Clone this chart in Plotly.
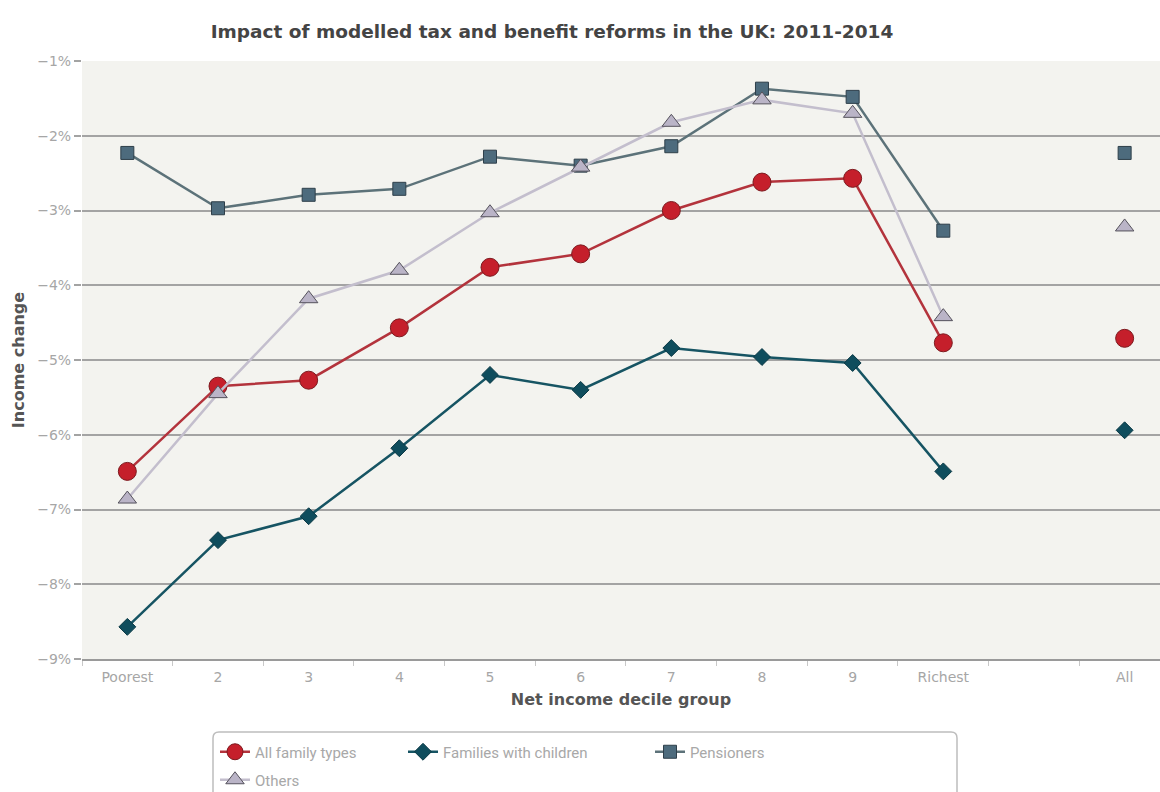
import plotly.graph_objects as go

categories = ["Poorest", "2", "3", "4", "5", "6", "7", "8", "9", "Richest", " ", "All"]

all_family_types = [-6.49, -5.35, -5.27, -4.57, -3.76, -3.58, -3.00, -2.62, -2.57, -4.77, None, -4.71]
families_with_children = [-8.57, -7.41, -7.09, -6.18, -5.20, -5.40, -4.84, -4.96, -5.04, -6.49, None, -5.94]
pensioners = [-2.23, -2.97, -2.79, -2.71, -2.28, -2.40, -2.14, -1.37, -1.48, -3.27, None, -2.23]
others = [-6.86, -5.45, -4.18, -3.80, -3.03, -2.42, -1.82, -1.52, -1.70, -4.42, None, -3.22]

y_ticks = [-9, -8, -7, -6, -5, -4, -3, -2, -1]
y_tick_labels = ["\u2212" + str(abs(v)) + "%" for v in y_ticks]

W, H = 1160, 792
L, R, T, B = 82, 0, 61, 133
PW, PH = W - L - R, H - T - B


def px_x(p):
    return (p - L) / PW


def px_y(p):
    return (H - B - p) / PH


series = [
    dict(name="All family types", y=all_family_types, symbol="circle", size=18,
         fill="#c51f2b", edge="#7d1a1f", line="#b3333c", legend="legend2"),
    dict(name="Families with children", y=families_with_children, symbol="diamond", size=13,
         fill="#0f4d5d", edge="#0b3945", line="#165463", legend="legend3"),
    dict(name="Pensioners", y=pensioners, symbol="square", size=13,
         fill="#4d6b7d", edge="#2e3f4a", line="#5c7279", legend="legend4"),
    dict(name="Others", y=others, symbol="triangle-up", size=16,
         fill="#bab4c7", edge="#55525c", line="#c3becd", legend="legend5"),
]

fig = go.Figure()
for s in series:
    fig.add_trace(go.Scatter(
        x=categories, y=s["y"], name=s["name"], mode="lines+markers",
        connectgaps=False,
        line=dict(color=s["line"], width=2.5),
        marker=dict(symbol=s["symbol"], size=s["size"], color=s["fill"],
                    line=dict(color=s["edge"], width=1)),
        legend=s["legend"],
    ))

legend_font = dict(family="Roboto, Arial, sans-serif", size=15, color="#a8a8a8")
leg_common = dict(font=legend_font, bgcolor="rgba(0,0,0,0)", borderwidth=0,
                  xanchor="left", yanchor="middle", orientation="v")

# rounded legend box
x0, x1 = px_x(213), px_x(957)
y0, y1 = px_y(732), px_y(812)
rx, ry = 6 / PW, 6 / PH
box_path = (f"M{x0+rx},{y0} L{x1-rx},{y0} Q{x1},{y0} {x1},{y0-ry} "
            f"L{x1},{y1+ry} Q{x1},{y1} {x1-rx},{y1} L{x0+rx},{y1} "
            f"Q{x0},{y1} {x0},{y1+ry} L{x0},{y0-ry} Q{x0},{y0} {x0+rx},{y0} Z")

fig.update_layout(
    width=W, height=H,
    margin=dict(l=L, r=R, t=T, b=B, autoexpand=False),
    paper_bgcolor="white",
    plot_bgcolor="#f3f3ef",
    title=dict(text="<b>Impact of modelled tax and benefit reforms in the UK: 2011-2014</b>",
               font=dict(family="DejaVu Sans, Arial, sans-serif", size=18.5, color="#444444"),
               x=552 / W, xref="container", xanchor="center",
               y=1 - 32 / H, yref="container", yanchor="middle"),
    xaxis=dict(
        type="category", categoryorder="array", categoryarray=categories,
        range=[-0.5, 11.39],
        tickson="boundaries", ticks="outside", ticklen=5, tickcolor="#c8c8c8", tickwidth=1,
        ticklabelstandoff=4,
        showgrid=False, showline=True, linecolor="#9a9a9a", linewidth=1.5,
        tickfont=dict(family="DejaVu Sans, sans-serif", size=14, color="#a6a6a6"),
        title=dict(text="<b>Net income decile group</b>", standoff=10,
                   font=dict(family="DejaVu Sans, Arial, sans-serif", size=16, color="#555555")),
        zeroline=False, fixedrange=True, automargin=False,
    ),
    yaxis=dict(
        range=[-9, -1], tickmode="array", tickvals=y_ticks, ticktext=y_tick_labels,
        showgrid=True, gridcolor="#a3a3a3", gridwidth=1.5,
        ticks="outside", ticklen=7, tickcolor="#a3a3a3", tickwidth=1.5,
        showline=False, zeroline=False,
        tickfont=dict(family="DejaVu Sans, sans-serif", size=14, color="#a6a6a6"),
        title=dict(text="<b>Income change</b>", standoff=8,
                   font=dict(family="DejaVu Sans, Arial, sans-serif", size=16, color="#555555")),
        fixedrange=True, automargin=False,
    ),
    legend2=dict(x=px_x(215), y=px_y(752), **leg_common),
    legend3=dict(x=px_x(403), y=px_y(752), **leg_common),
    legend4=dict(x=px_x(650), y=px_y(752), **leg_common),
    legend5=dict(x=px_x(215), y=px_y(780), **leg_common),
    shapes=[dict(type="path", xref="paper", yref="paper", path=box_path,
                 line=dict(color="#bdbdbd", width=1.5), fillcolor="rgba(0,0,0,0)",
                 layer="below")],
)

fig.write_html("out.html")
